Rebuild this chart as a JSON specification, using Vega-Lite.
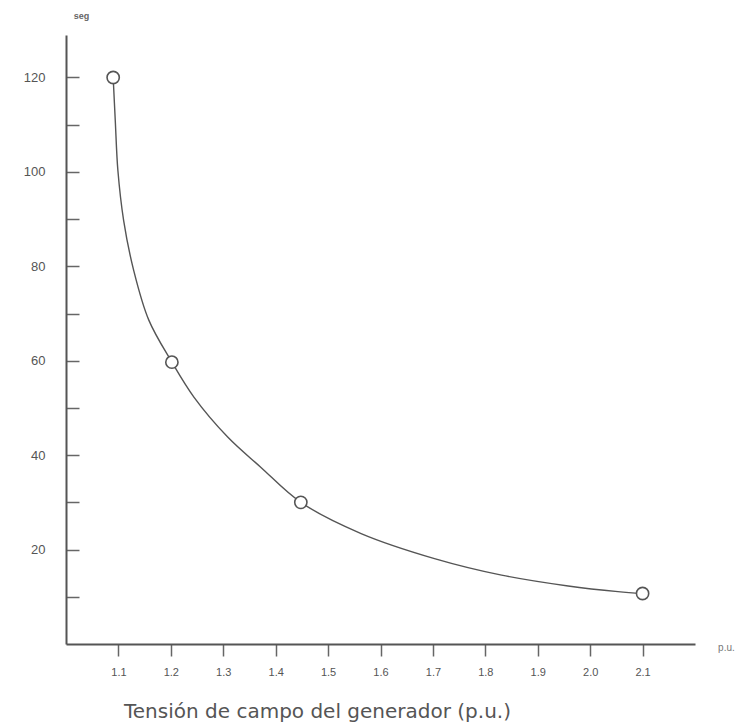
{
  "$schema": "https://vega.github.io/schema/vega-lite/v6.json",
  "width": 629,
  "height": 609,
  "autosize": {"type": "none"},
  "padding": {"left": 66, "top": 35, "right": 52, "bottom": 84},
  "background": "white",
  "config": {"view": {"stroke": null}},
  "datasets": {
    "curve": [
      {"x": 1.09, "y": 120},
      {"x": 1.094, "y": 110.9},
      {"x": 1.099, "y": 100.3},
      {"x": 1.11, "y": 89.7},
      {"x": 1.129, "y": 79.2},
      {"x": 1.158, "y": 68.6},
      {"x": 1.202, "y": 59.7},
      {"x": 1.244, "y": 52.3},
      {"x": 1.308, "y": 43.9},
      {"x": 1.371, "y": 37.5},
      {"x": 1.448, "y": 30},
      {"x": 1.563, "y": 23.4},
      {"x": 1.703, "y": 18.1},
      {"x": 1.831, "y": 14.6},
      {"x": 1.958, "y": 12.3},
      {"x": 2.053, "y": 11.1},
      {"x": 2.1, "y": 10.7}
    ],
    "points": [
      {"x": 1.09, "y": 120},
      {"x": 1.202, "y": 59.7},
      {"x": 1.448, "y": 30},
      {"x": 2.1, "y": 10.7}
    ],
    "unit": [{"x": 2.26, "y": 0, "label": "p.u."}]
  },
  "layer": [
    {
      "data": {"name": "curve"},
      "mark": {"type": "line", "interpolate": "catmull-rom", "color": "#555555", "strokeWidth": 1.4},
      "encoding": {
        "x": {
          "field": "x", "type": "quantitative",
          "scale": {"domain": [1.0, 2.2], "nice": false, "zero": false},
          "axis": {
            "values": [1.1, 1.2, 1.3, 1.4, 1.5, 1.6, 1.7, 1.8, 1.9, 2.0, 2.1],
            "format": ".1f",
            "grid": false,
            "domainColor": "#555555", "domainWidth": 2,
            "tickColor": "#666666", "tickWidth": 1.5, "tickSize": 12,
            "labelColor": "#555555", "labelFontSize": 11, "labelFont": "Liberation Sans",
            "labelPadding": 10,
            "title": "Tensión de campo del generador (p.u.)",
            "titleFont": "DejaVu Sans", "titleFontSize": 20, "titleFontWeight": "normal",
            "titleColor": "#555555",
            "titleX": 251, "titleY": 73, "titleAlign": "center", "titleBaseline": "alphabetic", "titleAnchor": null
          }
        },
        "y": {
          "field": "y", "type": "quantitative",
          "scale": {"domain": [0, 129], "nice": false},
          "axis": {
            "values": [10, 20, 30, 40, 50, 60, 70, 80, 90, 100, 110, 120],
            "labelExpr": "datum.value % 20 === 0 ? datum.label : ''",
            "grid": false,
            "domainColor": "#555555", "domainWidth": 2,
            "tickColor": "#666666", "tickWidth": 1.5, "tickSize": -13,
            "labelColor": "#555555", "labelFontSize": 13, "labelFont": "Liberation Sans",
            "labelPadding": 34,
            "title": "seg",
            "titleFont": "Liberation Sans", "titleFontSize": 9, "titleFontWeight": "bold",
            "titleColor": "#666666", "titleAngle": 0,
            "titleX": 15, "titleY": -20, "titleAlign": "center", "titleBaseline": "middle"
          }
        }
      }
    },
    {
      "data": {"name": "points"},
      "mark": {"type": "point", "shape": "circle", "filled": false, "fill": "white", "fillOpacity": 1, "stroke": "#555555", "strokeWidth": 1.6, "size": 150, "opacity": 1},
      "encoding": {
        "x": {"field": "x", "type": "quantitative"},
        "y": {"field": "y", "type": "quantitative"}
      }
    },
    {
      "data": {"name": "unit"},
      "mark": {"type": "text", "font": "Liberation Sans", "fontSize": 10, "color": "#777777", "baseline": "middle", "align": "center", "dy": 4},
      "encoding": {
        "x": {"field": "x", "type": "quantitative"},
        "y": {"field": "y", "type": "quantitative"},
        "text": {"field": "label"}
      }
    }
  ]
}
